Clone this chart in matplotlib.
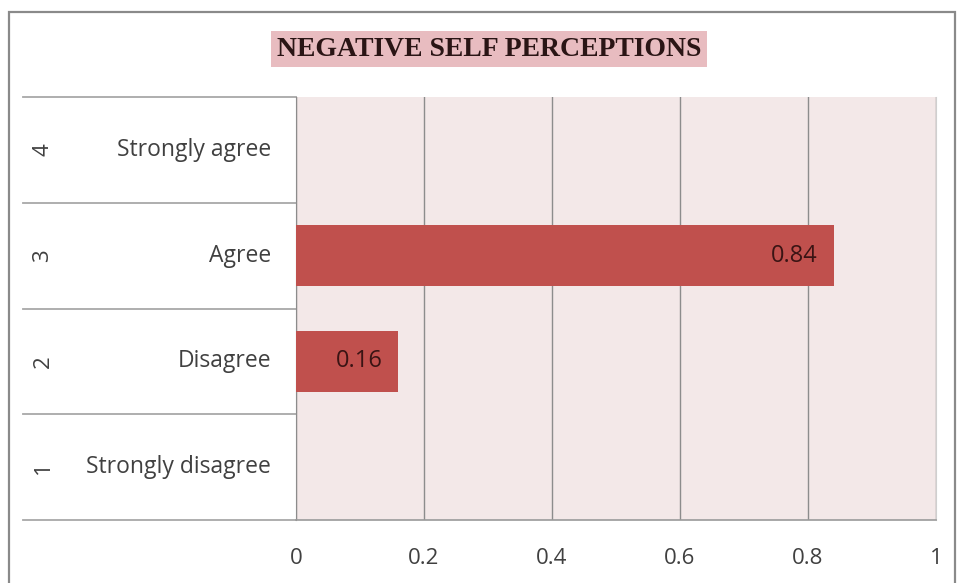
import matplotlib.pyplot as plt
from matplotlib.patches import Rectangle
import matplotlib.transforms as mtransforms

# survey responses, bottom to top
levels = [1, 2, 3, 4]
labels = ["Strongly disagree", "Disagree", "Agree", "Strongly agree"]
shares = [0.0, 0.16, 0.84, 0.0]
xticks = [0, 0.2, 0.4, 0.6, 0.8, 1]
xtick_labels = ["0", "0.2", "0.4", "0.6", "0.8", "1"]

W, H = 959, 583
fig = plt.figure(figsize=(W / 100, H / 100), dpi=100)
fig.patch.set_facecolor("white")

# outer chart frame
fig.add_artist(Rectangle((9 / W, -0.05), (955 - 9) / W, 1.05 - 12 / H,
                         transform=fig.transFigure, fill=False,
                         edgecolor="#8a8a8a", linewidth=1.6))

left, right, top, bottom = 296, 936, 97, 520
ax = fig.add_axes([left / W, 1 - bottom / H, (right - left) / W, (bottom - top) / H])
ax.set_facecolor("#f3e8e8")

bars = ax.barh(levels, shares, height=0.58, color="#c0504d", zorder=3)
for b, v in zip(bars, shares):
    if v > 0:
        ax.text(v - 0.025, b.get_y() + b.get_height() / 2, f"{v:g}",
                ha="right", va="center", fontsize=17, color="#3a1414",
                family="Open Sans", zorder=4)

ax.set_xlim(0, 1)
ax.set_ylim(0.5, 4.5)
ax.set_xticks(xticks)
ax.set_xticklabels(xtick_labels, fontsize=16, color="#404040", family="Open Sans")
ax.tick_params(axis="x", length=0, pad=20)
ax.set_yticks([])
ax.grid(axis="x", color="#8c8c8c", linewidth=1.0, zorder=1)

ax.spines["top"].set_visible(False)
ax.spines["right"].set_color("#cfcfcf")
ax.spines["left"].set_color("#8c8c8c")
ax.spines["bottom"].set_color("#9a9a9a")
ax.spines["bottom"].set_linewidth(1.2)

# category label column on the left
trans = mtransforms.blended_transform_factory(ax.transAxes, ax.transData)
x0 = (23 - left) / (right - left)
for yb in [0.5, 1.5, 2.5, 3.5, 4.5]:
    ax.plot([x0, 0], [yb, yb], transform=trans, color="#a8a8a8",
            linewidth=1.3, clip_on=False)
xl = (271 - left) / (right - left)
xn = (43 - left) / (right - left)
for lv, lab in zip(levels, labels):
    ax.text(xl, lv, lab, transform=trans, ha="right", va="center",
            fontsize=16.5, color="#404040", family="Open Sans")
    ax.text(xn, lv, str(lv), transform=trans, ha="center", va="center",
            rotation=90, fontsize=16, color="#404040", family="Open Sans")

# title with shaded box
fig.text(489 / W, 1 - 49 / H, "NEGATIVE SELF PERCEPTIONS", ha="center", va="center",
         fontsize=20, fontweight="bold", family="Liberation Serif", color="#2a1515",
         bbox=dict(boxstyle="square,pad=0.2", facecolor="#e8bcc0", edgecolor="none"))

fig.savefig("out.png", dpi=100)
